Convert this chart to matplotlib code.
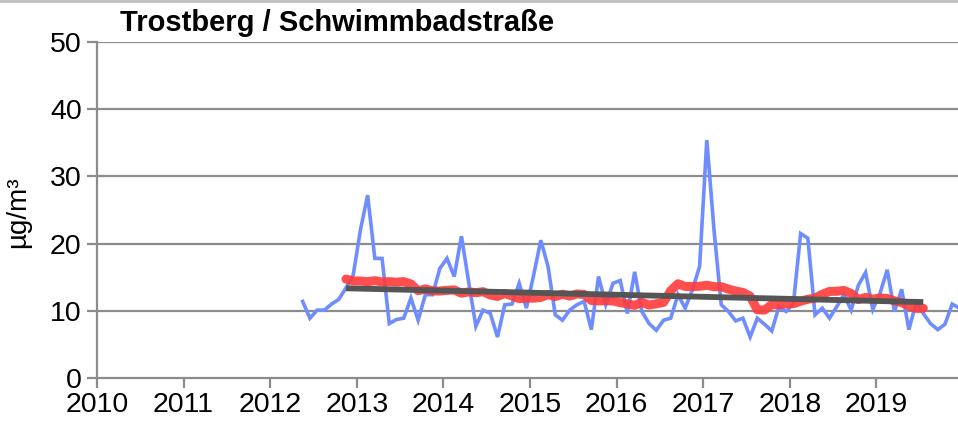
import numpy as np
import pandas as pd
import matplotlib
matplotlib.use("Agg")
import matplotlib.pyplot as plt
from matplotlib.lines import Line2D

plt.rcParams['font.family'] = ['Liberation Sans', 'DejaVu Sans']

title = "Trostberg / Schwimmbadstraße"
ylabel = "µg/m³"
year_ticks = list(range(2010, 2020))
y_ticks = [0, 10, 20, 30, 40, 50]

start_year, start_month = 2012, 5   # first monthly value: May 2012
monthly = [
    # 2012 May-Dec
    11.4, 8.9, 10.1, 10.1, 11.0, 11.7, 13.4, 15.3,
    # 2013
    22.0, 27.2, 17.8, 17.8, 8.1, 8.7, 8.9, 11.9, 8.6, 12.4, 12.4, 16.3,
    # 2014
    17.8, 15.1, 21.1, 14.3, 7.7, 10.1, 9.6, 6.1, 10.9, 11.0, 14.1, 10.4,
    # 2015
    15.3, 20.5, 16.6, 9.4, 8.6, 10.1, 10.9, 11.4, 7.2, 15.1, 10.9, 14.1,
    # 2016
    14.5, 9.6, 15.8, 9.9, 8.1, 7.1, 8.6, 8.9, 12.4, 10.4, 13.1, 16.6,
    # 2017
    35.4, 22.0, 10.9, 9.9, 8.5, 8.9, 6.1, 8.9, 8.0, 7.0, 10.6, 9.9,
    # 2018
    11.1, 21.5, 20.8, 9.4, 10.4, 8.9, 10.6, 12.4, 10.1, 13.8, 15.7, 10.2,
    # 2019
    12.6, 16.1, 9.9, 13.2, 7.2, 11.2, 9.6, 8.1, 7.2, 8.0, 11.0, 10.4,
]
ma_window = 12          # running annual mean shown in red
trend_start = 13.35     # grey trend line value at first running-mean month
trend_end = 11.3        # grey trend line value at last running-mean month

n = len(monthly)
t = np.array([start_year + (start_month - 1 + i + 0.5) / 12.0 for i in range(n)])
s = pd.Series(monthly)
ma = s.rolling(ma_window, center=True).mean()
valid = ma.notna().values
t_ma = t[valid]

fig = plt.figure(figsize=(9.58, 4.23), dpi=100)
ax = fig.add_axes([97/958, 1-378/423, 866/958, (378-42)/423])

ax.set_xlim(2010, 2020)
ax.set_ylim(0, 50)

for yv in y_ticks[1:]:
    ax.axhline(yv, color='#8c8c8c', lw=1.6, zorder=1)

ax.plot(t, monthly, color='#6f8dff', lw=2.6, zorder=3, solid_joinstyle='miter')
ax.plot(t_ma, ma[valid].values, color='#ff3b3b', lw=6.5, alpha=0.9, zorder=4,
        solid_capstyle='round')
ax.plot([t_ma[0], t_ma[-1]], [trend_start, trend_end], color='#555555', lw=4.2,
        zorder=5, solid_capstyle='butt')

ax.set_xticks(year_ticks)
ax.set_xticklabels([str(y) for y in year_ticks])
ax.set_yticks(y_ticks)
ax.tick_params(axis='both', labelsize=20.5, colors='#8c8c8c', labelcolor='black',
               width=1.6, length=7, direction='out')
ax.tick_params(axis='x', pad=3)
ax.tick_params(axis='y', pad=4)

for side in ['top', 'right']:
    ax.spines[side].set_visible(False)
for side in ['left', 'bottom']:
    ax.spines[side].set_color('#8c8c8c')
    ax.spines[side].set_linewidth(1.6)

fig.text(18/958, 1-212/423, ylabel, rotation=90, fontsize=20, ha='center', va='center')
fig.text(120/958, 1-23/423, title, fontsize=21, fontweight='bold', ha='left', va='center')

fig.add_artist(Line2D([0, 1], [1-1/423, 1-1/423], color='#bdbdbd', lw=2))

fig.savefig('out.png', dpi=100)
